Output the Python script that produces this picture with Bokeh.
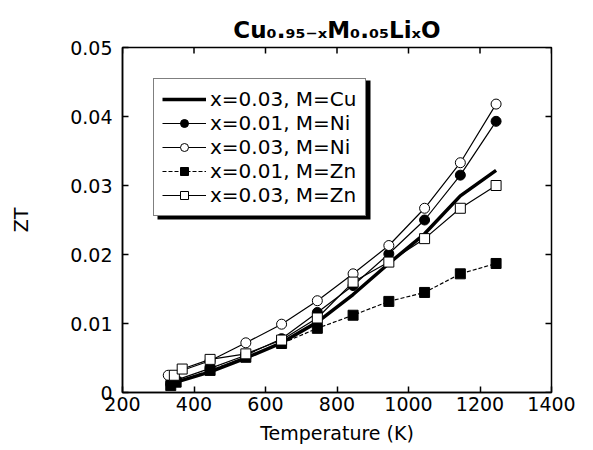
import math
from bokeh.plotting import figure
from bokeh.models import Range1d, FixedTicker, Legend, LegendItem, BoxAnnotation
from bokeh.embed import file_html
from bokeh.resources import INLINE

# ---- data: ZT versus temperature for Cu(0.95-x) M(0.05) Li(x) O ----
t_cu_003 = [330, 350, 445, 545, 645, 745, 845, 945, 1045, 1145, 1245]
zt_cu_003 = [0.0010, 0.0015, 0.0030, 0.0050, 0.0072, 0.0102, 0.0142, 0.0187, 0.0230, 0.0285, 0.0322]

t_ni_001 = [335, 350, 445, 545, 645, 745, 845, 945, 1045, 1145, 1245]
zt_ni_001 = [0.0012, 0.0018, 0.0035, 0.0054, 0.0078, 0.0116, 0.0155, 0.0201, 0.0250, 0.0315, 0.0393]

t_ni_003 = [328, 445, 545, 645, 745, 845, 945, 1045, 1145, 1245]
zt_ni_003 = [0.0025, 0.0046, 0.0072, 0.0099, 0.0133, 0.0172, 0.0213, 0.0267, 0.0333, 0.0418]

t_zn_001 = [335, 350, 445, 545, 645, 745, 845, 945, 1045, 1145, 1245]
zt_zn_001 = [0.0010, 0.0015, 0.0032, 0.0051, 0.0071, 0.0093, 0.0112, 0.0132, 0.0145, 0.0172, 0.0187]

t_zn_003 = [345, 367, 445, 545, 645, 745, 845, 945, 1045, 1145, 1245]
zt_zn_003 = [0.0025, 0.0034, 0.0048, 0.0056, 0.0076, 0.0108, 0.0160, 0.0189, 0.0223, 0.0267, 0.0300]

series_labels = ["x=0.03, M=Cu", "x=0.01, M=Ni", "x=0.03, M=Ni", "x=0.01, M=Zn", "x=0.03, M=Zn"]
title_text = "Cu\u2080.\u2089\u2085\u208b\u2093M\u2080.\u2080\u2085Li\u2093O"

x_ticks = [200, 400, 600, 800, 1000, 1200, 1400]
x_tick_labels = ["200", "400", "600", "800", "1000", "1200", "1400"]
y_ticks = [0, 0.01, 0.02, 0.03, 0.04, 0.05]
y_tick_labels = ["0", "0.01", "0.02", "0.03", "0.04", "0.05"]

# ---- layout ----
W, H = 593, 450
LEFT, RIGHT, TOP, BOTTOM = 122, 551, 47, 392
X0, X1, Y0, Y1 = 200, 1400, 0.0, 0.05
FONT = "DejaVu Sans"
TICK = 6


def px_x(px):
    return X0 + (px - LEFT) * (X1 - X0) / (RIGHT - LEFT)


def px_y(py):
    return Y0 + (BOTTOM - py) * (Y1 - Y0) / (BOTTOM - TOP)


p = figure(width=W, height=H, output_backend="svg", toolbar_location=None,
           x_range=Range1d(X0, X1), y_range=Range1d(Y0, Y1),
           min_border_left=LEFT, min_border_right=W - RIGHT,
           min_border_top=TOP, min_border_bottom=H - BOTTOM)
p.xgrid.visible = False
p.ygrid.visible = False
p.outline_line_color = "black"
p.outline_line_width = 1.5
p.background_fill_color = "white"
p.border_fill_color = "white"

p.title.text = title_text
p.title.align = "center"
p.title.text_font = FONT
p.title.text_font_size = "23px"
p.title.text_font_style = "bold"
p.title.text_color = "black"
p.title.standoff = 9

for ax, ticks, labels in ((p.xaxis[0], x_ticks, x_tick_labels),
                          (p.yaxis[0], y_ticks, y_tick_labels)):
    ax.ticker = FixedTicker(ticks=ticks)
    ax.major_label_overrides = dict(zip(ticks, labels))
    ax.axis_line_color = "black"
    ax.axis_line_width = 1.5
    ax.major_tick_in = TICK
    ax.major_tick_out = 0
    ax.major_tick_line_width = 1.5
    ax.minor_tick_line_color = None
    ax.major_label_text_font = FONT
    ax.major_label_text_font_size = "19px"
    ax.major_label_text_color = "black"
    ax.axis_label_text_font = FONT
    ax.axis_label_text_font_size = "19px"
    ax.axis_label_text_font_style = "normal"
    ax.axis_label_text_color = "black"

p.xaxis.major_label_standoff = 4
p.yaxis.major_label_standoff = 10
p.xaxis.axis_label = "Temperature (K)"
p.yaxis.axis_label = "ZT"
p.xaxis.axis_label_standoff = 8
p.yaxis.axis_label_standoff = 35

# inward tick marks mirrored on the top and right edges of the frame
p.ray(x=x_ticks, y=[Y1] * len(x_ticks), length=TICK, length_units="screen",
      angle=-math.pi / 2, line_color="black", line_width=1.5)
p.ray(x=[X1] * len(y_ticks), y=y_ticks, length=TICK, length_units="screen",
      angle=math.pi, line_color="black", line_width=1.5)

# ---- curves ----
MS = 10
r_cu = p.line(t_cu_003, zt_cu_003, line_color="black", line_width=3.5)

l_ni1 = p.line(t_ni_001, zt_ni_001, line_color="black", line_width=1.2)
m_ni1 = p.scatter(t_ni_001, zt_ni_001, marker="circle", size=MS,
                  fill_color="black", line_color="black")

l_ni3 = p.line(t_ni_003, zt_ni_003, line_color="black", line_width=1.2)
m_ni3 = p.scatter(t_ni_003, zt_ni_003, marker="circle", size=MS,
                  fill_color="white", line_color="black", line_width=1)

l_zn1 = p.line(t_zn_001, zt_zn_001, line_color="black", line_width=1.2, line_dash="4 2")
m_zn1 = p.scatter(t_zn_001, zt_zn_001, marker="square", size=MS,
                  fill_color="black", line_color="black")

l_zn3 = p.line(t_zn_003, zt_zn_003, line_color="black", line_width=1.2)
m_zn3 = p.scatter(t_zn_003, zt_zn_003, marker="square", size=MS,
                  fill_color="white", line_color="black", line_width=1)

# ---- legend with a drop shadow ----
shadow = BoxAnnotation(left=px_x(157), right=px_x(370), top=px_y(80), bottom=px_y(219),
                       fill_color="black", fill_alpha=1.0, line_alpha=0)
p.add_layout(shadow)

items = [
    LegendItem(label=series_labels[0], renderers=[r_cu]),
    LegendItem(label=series_labels[1], renderers=[l_ni1, m_ni1]),
    LegendItem(label=series_labels[2], renderers=[l_ni3, m_ni3]),
    LegendItem(label=series_labels[3], renderers=[l_zn1, m_zn1]),
    LegendItem(label=series_labels[4], renderers=[l_zn3, m_zn3]),
]
legend = Legend(items=items, location=(31, 392 - 216),
                label_text_font=FONT, label_text_font_size="20px",
                label_text_color="black", label_height=23, label_standoff=4,
                glyph_width=44, glyph_height=20, spacing=0, padding=8,
                border_line_color="black", border_line_width=1.5,
                background_fill_color="white", background_fill_alpha=1.0)
p.add_layout(legend, "center")

open("out.html", "w").write(file_html(p, INLINE))
